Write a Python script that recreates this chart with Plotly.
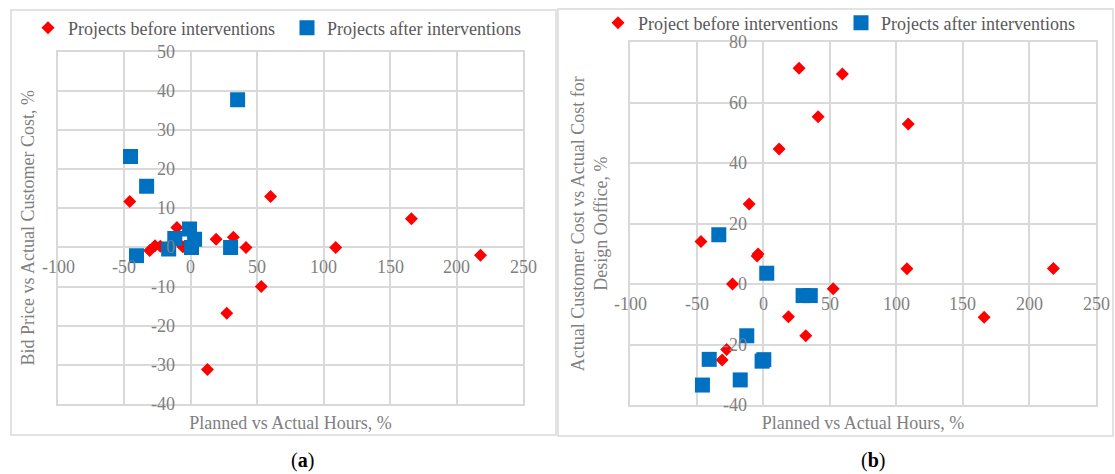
import plotly.graph_objects as go

W, H = 1115, 474

# ---------- data: panel (a) ----------
a_before_x = [-46, 60, 166, 109, 218, 53, 27, 12.5, 19, 32, 41.5, -10.5, -31, -27, -23, -6, -3]
a_before_y = [11.7, 13, 7.3, 0, -2, -10, -16.8, -31.2, 2.1, 2.6, 0, 5.1, -0.8, 0.4, 0.3, 0.2, -0.4]
a_after_x = [-45.4, -33.3, 35.2, -40.9, -16.7, -12.1, -1, 2.8, 0.5, 29.9]
a_after_y = [23.2, 15.6, 37.7, -2.1, -0.4, 2.3, 4.7, 2.1, 0, 0]

# ---------- data: panel (b) ----------
b_before_x = [27, 59.5, 41.3, 109, 12, -10.5, -46.7, -3.8, -4.5, -23, 52.6, 108, 218, 166, 19, 32, -27.4, -30.8]
b_before_y = [71.4, 69.5, 55.4, 53, 44.7, 26.5, 14.1, 10, 9.3, 0, -1.5, 5.1, 5.2, -11, -10.8, -17.1, -21.6, -25.1]
b_after_x = [-33.3, 2.7, 30, 35.4, -12.3, -40.5, -0.8, 0.5, -17.2, -45.6]
b_after_y = [16.3, 3.6, -3.8, -3.8, -17.1, -24.9, -25.5, -25, -31.7, -33.4]

x_ticks = [-100, -50, 0, 50, 100, 150, 200, 250]
a_y_ticks = [-40, -30, -20, -10, 0, 10, 20, 30, 40, 50]
b_y_ticks = [-40, -20, 0, 20, 40, 60, 80]

RED = "#FF0000"
BLUE = "#0070C0"
GRID = "#D9D9D9"
TICK = "#808080"
LEG = "#595959"
FONT = "Liberation Serif, Times New Roman, serif"
TICK_SIZE = 18
TITLE_SIZE = 18
LEG_SIZE = 18

fig = go.Figure()
fig.add_trace(go.Scatter(x=a_before_x, y=a_before_y, mode="markers", name="Projects before interventions",
                         marker=dict(symbol="diamond", size=10, color=RED), xaxis="x", yaxis="y", legend="legend"))
fig.add_trace(go.Scatter(x=a_after_x, y=a_after_y, mode="markers", name="Projects after interventions",
                         marker=dict(symbol="square", size=15, color=BLUE), xaxis="x", yaxis="y", legend="legend"))
fig.add_trace(go.Scatter(x=b_before_x, y=b_before_y, mode="markers", name="Project before interventions",
                         marker=dict(symbol="diamond", size=10, color=RED), xaxis="x2", yaxis="y2", legend="legend2"))
fig.add_trace(go.Scatter(x=b_after_x, y=b_after_y, mode="markers", name="Projects after interventions",
                         marker=dict(symbol="square", size=15, color=BLUE), xaxis="x2", yaxis="y2", legend="legend2"))

ax_common = dict(showgrid=True, gridcolor=GRID, gridwidth=1.5, zeroline=True, zerolinecolor=GRID,
                 zerolinewidth=1.5, showline=True, linecolor=GRID, linewidth=1.5, mirror=True,
                 showticklabels=False, ticks="", fixedrange=True)

def px_x(p):
    return p / W

def px_y(p):
    return 1 - p / H

title_font = dict(family=FONT, size=TITLE_SIZE, color=TICK)

fig.update_layout(
    width=W, height=H, margin=dict(l=0, r=0, t=0, b=0),
    paper_bgcolor="white", plot_bgcolor="white",
    font=dict(family=FONT, size=18, color=TICK),
    xaxis=dict(domain=[px_x(58), px_x(523)], range=[-100, 250], dtick=50, anchor="y",
               title=dict(text="Planned vs Actual Hours, %", standoff=12, font=title_font), **ax_common),
    yaxis=dict(domain=[px_y(404), px_y(51.7)], range=[-40, 50], dtick=10, anchor="x",
               title=dict(text="Bid Price vs Actual Customer Cost, %", standoff=17, font=title_font), **ax_common),
    xaxis2=dict(domain=[px_x(630), px_x(1096)], range=[-100, 250], dtick=50, anchor="y2",
                title=dict(text="Planned vs Actual Hours, %", standoff=11, font=title_font), **ax_common),
    yaxis2=dict(domain=[px_y(405), px_y(42.3)], range=[-40, 80], dtick=20, anchor="x2",
                title=dict(text="Actual Customer Cost vs Actual Cost for<br>Design Ooffice, %", standoff=16,
                           font=title_font), **ax_common),
    legend=dict(orientation="h", x=px_x(28), y=px_y(28), xanchor="left", yanchor="middle",
                font=dict(family=FONT, size=LEG_SIZE, color=LEG), bgcolor="rgba(0,0,0,0)",
                itemwidth=30, entrywidth=214, tracegroupgap=0),
    legend2=dict(orientation="h", x=px_x(598), y=px_y(23), xanchor="left", yanchor="middle",
                 font=dict(family=FONT, size=LEG_SIZE, color=LEG), bgcolor="rgba(0,0,0,0)",
                 itemwidth=30, entrywidth=198, tracegroupgap=0),
    showlegend=True,
)

annotations = []
# tick labels at the axis crossing (Excel style)
for xr, yr, yt in (("x", "y", a_y_ticks), ("x2", "y2", b_y_ticks)):
    for t in x_ticks:
        annotations.append(dict(x=t, y=0, xref=xr, yref=yr, text=str(t), showarrow=False,
                                xanchor="center", yanchor="middle", yshift=-20,
                                font=dict(family=FONT, size=TICK_SIZE, color=TICK)))
    for t in yt:
        annotations.append(dict(x=0, y=t, xref=xr, yref=yr, text=str(t), showarrow=False,
                                xanchor="right", yanchor="middle", xshift=-14,
                                font=dict(family=FONT, size=TICK_SIZE, color=TICK)))

annotations.append(dict(x=px_x(302), y=px_y(460), xref="paper", yref="paper", text="(<b>a</b>)",
                        showarrow=False, xanchor="center", yanchor="middle",
                        font=dict(family=FONT, size=20, color="black")))
annotations.append(dict(x=px_x(873), y=px_y(460), xref="paper", yref="paper", text="(<b>b</b>)",
                        showarrow=False, xanchor="center", yanchor="middle",
                        font=dict(family=FONT, size=20, color="black")))
fig.update_layout(annotations=annotations)

fig.update_layout(shapes=[
    dict(type="rect", xref="paper", yref="paper", x0=px_x(11), x1=px_x(556), y0=px_y(435), y1=px_y(10),
         line=dict(color=GRID, width=1.5), fillcolor="rgba(0,0,0,0)", layer="below"),
    dict(type="rect", xref="paper", yref="paper", x0=px_x(558), x1=px_x(1113), y0=px_y(436), y1=px_y(9),
         line=dict(color=GRID, width=1.5), fillcolor="rgba(0,0,0,0)", layer="below"),
])

fig.write_html("out.html", config={"displayModeBar": False},
               post_script="document.body.style.margin='0px';document.body.style.overflow='hidden';")
